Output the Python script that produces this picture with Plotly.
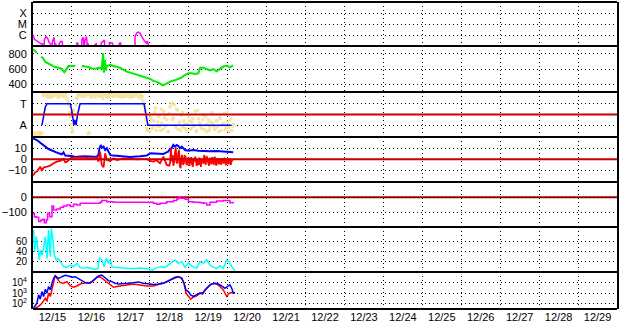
import plotly.graph_objects as go
import pandas as pd

BASE = pd.Timestamp("2005-12-15")
END = pd.Timestamp("2005-12-30")

# ---- Panel 1: X-ray flux (log10 W/m2), hours since 12/15 00:00
xray_h = [0,1,2,3,4,5,5.8,5.9,6.8,7,8,9,10,11,11.5,12,13,13.6,14,14.6,16,16.1,17,18,18.5,27,27.1,28,28.2,30,30.1,31,31.5,32,33,33.6,34,34.3,38,38.1,39,39.5,42,42.1,43,44,44.3,47,47.1,49,49.3,53,53.1,54,54.3,62.8,62.9,64,65,66,67,68,69,70,70.5,71,71.3,81,81.1,81.5]
xray_log = [-6.0,-6.4,-6.5,-6.6,-6.75,-6.8,-6.8,-7.3,-7.3,-6.45,-6.15,-6.3,-6.7,-6.85,-7.3,-6.6,-6.2,-7.3,-6.75,-7.3,-7.3,-6.8,-6.58,-6.58,-7.3,-7.3,-6.67,-6.9,-7.3,-7.3,-6.4,-6.2,-7.3,-6.5,-6.15,-7.3,-6.75,-7.3,-7.3,-6.9,-6.8,-7.3,-7.3,-6.7,-6.6,-6.45,-7.3,-7.3,-6.7,-6.75,-7.3,-7.3,-6.8,-6.7,-7.3,-7.3,-6.15,-5.8,-5.73,-5.85,-6.15,-6.45,-6.6,-6.75,-6.55,-6.85,-7.3,-7.3,-6.9,-7.3]
xray_tickvals = [1e-6, 1e-5, 1e-4]
xray_ticktext = ["C", "M", "X"]

# ---- Panel 2: solar wind speed
speed_h = [0,1.4,2.4,3.5,4.9,6.1,7.6,9.6,11.7,13.7,15.8,17.8,19.3,20.5,21.9,24,26,28,30.1,32.2,34.2,36.3,38.3,40.4,42.4,43.2,43.7,44.3,44.9,45.5,47.6,49.6,51.7,53.7,55.8,57.8,59.9,62,64,66,68.1,70.1,72.2,74.2,76.3,78.3,80,81.4,83.4,85.5,87.6,89.6,91.7,93.7,95.8,97.8,99.9,101.9,103,105,107.1,109.1,111.2,113.2,115.3,117.3,119.3,121.4,123.4]
speed = [858,827,813,None,759,746,692,670,647,625,616,602,557,589,638,638,638,None,638,634,625,607,602,616,607,804,553,715,580,634,656,638,625,616,589,566,553,544,526,512,499,481,472,445,432,409,387,400,427,445,454,468,490,521,544,544,535,544,616,616,602,580,598,571,602,634,643,625,647]

# ---- Panel 3: IMF sector (T / A)
sector_h = [5.5,6.6,7.6,8.6,23,24,25.2,25.8,26.5,27.5,29,68.5,69.7,70.8,122.4]
sector = [-1,0,0.7,1,1,0.3,-1,-0.5,-1,0,1,1,0,-1,-1]
phi1 = [-1.8,-1.85,-1.75,-1.9,-1.8,-1.7,1.8,1.9,1.7,1.95,1.85,1.6,1.9,1.75,1.95,1.8,1.7,1.9,1.85,1.65,1.9,1.4,0.8,-0.2,
        -1.3,0.4,-0.6,1.5,1.85,1.9,1.75,1.95,1.7,1.85,-1.8,1.9,1.6,1.85,1.75,1.95,1.8,1.7,1.9,1.5,1.85,1.75,1.9,1.6,
        1.8,1.95,1.7,1.85,1.75,1.9,1.65,1.85,1.8,1.7,1.9,1.75,1.6,1.85,1.7,1.9,1.8,1.65,1.85,1.5,1.2,0.3,-1.3,-0.9,
        -1.6,-0.4,-1.2,0.2,-1.5,-0.7,-1.1,0.5,-1.4,-0.3,-1.0,-1.6,0.1,1.0,-0.5,0.9,-1.2,0.4,-0.8,-1.5,0.2,-0.6,-1.3,-0.9,
        -0.2,-1.4,-0.7,-1.1,0.3,-1.5,-0.4,-0.9,-1.3,-0.1,-1.0,-1.6,-0.5,-1.2,0.2,-0.8,-1.4,-0.6,-1.1,-0.3,-1.5,-0.9,0.1,
        -1.2,-0.7,-1.6,-0.4,-1.1]
phi2 = [-1.7,-1.9,-1.8,-1.65,-1.85,-1.75,
        1.95,1.75,1.85,1.6,1.9,1.8,1.7,1.95,1.85,1.6,1.9,1.75,1.8,1.95,1.7,1.1,0.2,
        -0.9,-1.6,-0.1,0.9,1.7,1.9,
        1.8,1.65,1.9,1.75,1.85,-1.7,1.7,1.95,1.8,1.6,1.9,1.75,1.85,1.7,1.95,1.8,1.6,1.85,1.75,1.9,1.65,1.8,1.95,1.7,1.85,1.75,1.6,1.9,1.8,1.7,1.95,1.85,1.65,1.8,1.9,1.75,1.6,1.85,
        1.7,0.8,-0.5,-1.5,-1.0,-0.3,
        -1.3,-0.6,0.6,-1.1,-0.2,-1.5,-0.8,0.3,-1.2,-0.5,-1.6,0.7,1.1,-0.3,-1.0,0.5,-1.4,-0.7,-0.1,-1.2,
        -0.9,-1.5,0.0,-0.6,-1.3,-0.4,-1.0,-1.6,0.4,-0.8,-1.2,-0.5,-1.4,-0.2,-0.9,-1.5,-0.7,0.1,-1.1,-1.3,
        -0.6,-1.6,-0.4,-1.0,-0.8,-1.4,0.2,-1.2,-0.5,-1.5,-0.9]
phi1_h = [h for h in range(len(phi1))]
phi2_h = [h + 0.5 for h in range(len(phi2))]

# ---- Panel 4: Bt (blue) and Bz (red), nT
bt_h = [0,1.4,2.4,4.1,5.5,7.6,9.6,11.7,13.7,15.8,17.8,18.8,19.9,21.9,24,26,31.2,35.3,39.4,40.4,41,41.8,42.6,43.5,44.5,45.5,46.5,47.6,49.6,53.7,59.9,66,70.1,72.2,76.3,80.4,83.4,84.4,85.5,86.5,87.6,88.6,89.6,90.6,91.7,93.7,95.8,98.8,101.9,105,109.1,113.2,117.3,121.4,123.4]
bt = [19.4,18.8,17.8,15.7,13.8,11.7,9.5,8,7.1,5.5,4.6,6.5,3.4,3.4,3.1,2.2,2.8,2.5,2.2,4.6,10.2,13.2,10.8,11.7,8.6,10.2,7.7,4,3.4,2.8,2.2,2.8,3.4,5.5,4.9,4.9,7.1,9.5,10.2,13.2,11.7,13.2,12.3,10.2,11.7,8.6,8,8.6,8,7.7,7.4,7.7,7.1,7.1,6.5]
bz_h_early = [0,1.4,2.4,4.5,5.5,6.5,8.6,10.6,12.7,14.7,16.8,18.8,19.9,20.9,23,25,31.2,37.3,39.4,40.4,41.4,42.4,43.5,44.5,45.5,47.6,49.6,51.7,55.8,59.9,64,70.1,72.2,74.2,76.3,78.3,80.4,82.4]
bz_early = [-15.1,-12,-11.4,-6.8,-10.8,-7.7,-6.8,-5.8,-3.7,-2.2,-1.5,0.3,-2.8,-2.2,0.9,1.5,1.5,0.9,1.5,-2.2,7.1,-5.2,-7.4,5.5,-0.6,-1.5,0.9,-0.6,0.9,0.3,0,0.3,-1.5,-2.2,-0.9,-3.7,2.5,-5.2]
# half-hourly Bz from 12/18 12:00
bz_late = [-5.8,-3,10.2,-2,4,-6,-2.2,6,10.8,-3,-3.7,5,8.6,-6,-8.3,2,4,-5,-3.7,3,2.5,-4,-5.2,1,0.9,-6,-2,2,-3.7,-7,
           1,-2,2.5,-4,-6,0,-5.2,1.5,-3,-7,0.5,-0.6,-4,4,-2,-5,3,-1,-3.7,-6,1.5,-2,-4.6,2,-1,-5,2.5,-3.7,-6,0.9,
           -2,-4.6,1,-3,-5,0.9,-2,-4,1.5,-3,-5.5,0.5,-2,-4.6,0.9,-3,-5,0,-2]
bz_h_late = [84 + 0.5 * k for k in range(len(bz_late))]
bz_h = bz_h_early + bz_h_late
bz = bz_early + bz_late

# ---- Panel 5: Dst, nT
dst_h = [0,0.8,2,3.5,4.9,6.1,7,8.2,9,10.2,11.7,12.7,14.7,16.8,18.8,20.9,23,25,27.1,29.1,33.2,37.3,41.4,42.4,43.5,45.5,49.6,55.8,62,68.1,74.2,76.3,78.3,82.4,86.5,88.6,89.6,90.6,91.7,93.7,95.8,98.8,102.9,105,107.1,109.1,113.2,117.3,119.3,121.4,123.4]
dst = [-107,-129,-133,-162,-151,-147,-169,-151,-107,-129,-58,-84,-78,-67,-58,-51,-62,-47,-51,-40,-40,-40,-33,-22,-22,-29,-33,-33,-33,-33,-40,-47,-40,-29,-22,-11,0,-7,-7,-13,-29,-33,-36,-40,-51,-33,-24,-22,-22,-36,-29]

# ---- Panel 6: cyan index
cyan_h = [0.4,1,2,2.8,3.9,4.5,5.5,6.5,7.6,8.6,9.6,10.7,11.3,12.3,13.1,14.3,15.4,16.8,18.9,20.9,23,25,27.1,29.1,31.2,33.2,35.3,38.3,40,41,42.4,43.9,45.1,46.5,47.6,48.8,50.6,53.7,57.8,61.9,66,70.1,73.2,75.3,78.4,81.4,83.5,85.5,87.6,89.6,91.7,93.7,95.8,97.8,100.9,102.9,105,107.1,109.1,111.2,113.2,115.3,117.3,119.4,121,122.5,124.5]
cyan = [82,38.7,68.7,48.7,22,42,32,45.3,68.7,25.3,82,28.7,85.3,62,32,22,25.3,18.7,8.7,7.3,12,8.7,15.3,6.7,5.3,7.3,5.3,3.3,5.3,26.7,22,8.7,25.3,15.3,22,8.7,7.3,6,5.3,4.7,6,4.7,0.7,5.3,8.7,7.3,12,16.7,22,15.3,18.7,7.3,16.7,10,5.3,18.7,15.3,22,12,7.3,5.3,10,5.3,22,18.7,8.7,0]

# ---- Panel 7: electron flux (log10), blue and red
eb_h = [0.4,2.4,3.5,4.5,5.5,6.5,7.6,8.6,9.6,10.7,11.7,12.7,13.7,15.8,17.8,19.9,21.9,24,26,28.1,30.1,32.2,34.2,36.3,38.3,40.4,42.4,44.5,46.5,48.6,50.6,52.7,55.8,58.8,61.9,65,68,71.2,74.3,77.4,80.4,83.5,85.5,87.6,89.6,91.7,93.1,94.3,95.8,97.2,98.8,100.9,102.9,104.6,106,108.1,110.1,112.2,114.2,116.3,118.3,119.8,121.4,122.5,123.5,124.5]
eb_log = [1.6,2.06,2.86,2.44,3.17,2.7,3.4,3.02,3.65,3.33,3.97,4.44,4.67,4.44,4.6,4.73,4.67,4.54,4.6,4.44,4.22,4.03,3.97,4.13,4.44,4.67,4.76,4.44,4.22,4.13,3.97,3.9,3.9,3.97,4.03,4.1,3.97,3.9,3.84,3.9,3.97,4.19,4.35,4.54,4.6,4.44,3.97,3.33,3.17,2.86,2.7,2.86,3.02,2.95,3.33,3.65,3.9,3.97,3.9,3.71,3.49,3.65,3.81,3.49,3.02,3.08]
er_h = [0.4,3.5,5.5,7.6,8.6,9.6,10.7,11.7,12.7,13.7,14.7,16.8,18.9,20.9,23,25,27.1,29.1,31.2,33.2,35.3,37.3,39.4,41.4,43.5,45.5,47.6,49.6,51.7,53.7,57.8,61.9,66,70.1,74.3,78.4,81.4,83.5,85.5,87.6,89.6,91.7,93.1,94.3,95.8,97.2,98.8,100.9,102.9,105,107.1,109.1,111.2,113.2,115.3,117.3,119.4,121,122.5,124.5]
er_log = [1.5,1.75,2.06,2.54,2.22,3.02,2.7,3.49,4.29,4.76,4.44,4.03,3.97,4.13,3.71,3.59,3.71,3.9,3.97,4.03,3.97,4.22,4.54,4.6,4.35,4.13,3.81,3.59,3.65,3.71,3.81,3.9,3.81,3.71,3.71,3.9,4.03,4.22,4.35,4.54,4.6,4.44,3.97,3.02,2.7,2.44,2.63,2.76,3.02,3.08,3.49,3.81,3.97,3.9,3.65,3.33,2.7,3.02,3.08,3.02]
e_tickvals = [1e2, 1e3, 1e4]
e_ticktext = ["10<sup>2</sup>", "10<sup>3</sup>", "10<sup>4</sup>"]


def tt(hours):
    return [BASE + pd.Timedelta(hours=h) for h in hours]


fig = go.Figure()
LW = 1.5
fig.add_trace(go.Scatter(x=tt(xray_h), y=[10 ** v for v in xray_log], mode="lines",
                         line=dict(color="#ff00ff", width=LW), xaxis="x", yaxis="y"))
fig.add_trace(go.Scatter(x=tt(speed_h), y=speed, mode="lines", connectgaps=False,
                         line=dict(color="#00ee00", width=2), xaxis="x2", yaxis="y2"))
fig.add_trace(go.Scatter(x=tt(phi1_h), y=phi1, mode="markers",
                         marker=dict(color="#f6e49e", size=3, symbol="square", line=dict(width=0)),
                         xaxis="x3", yaxis="y3"))
fig.add_trace(go.Scatter(x=tt(phi2_h), y=phi2, mode="markers",
                         marker=dict(color="#f6e49e", size=3, symbol="square", line=dict(width=0)),
                         xaxis="x3", yaxis="y3"))
fig.add_trace(go.Scatter(x=tt(sector_h), y=sector, mode="lines",
                         line=dict(color="#0000ff", width=LW), xaxis="x3", yaxis="y3"))
fig.add_trace(go.Scatter(x=tt(bt_h), y=bt, mode="lines",
                         line=dict(color="#0000ff", width=2), xaxis="x4", yaxis="y4"))
fig.add_trace(go.Scatter(x=tt(bz_h), y=bz, mode="lines",
                         line=dict(color="#ff0000", width=1.8), xaxis="x4", yaxis="y4"))
fig.add_trace(go.Scatter(x=tt(dst_h), y=dst, mode="lines", line_shape="hv",
                         line=dict(color="#ff00ff", width=LW), xaxis="x5", yaxis="y5"))
fig.add_trace(go.Scatter(x=tt(cyan_h), y=cyan, mode="lines",
                         line=dict(color="#00ffff", width=LW), xaxis="x6", yaxis="y6"))
fig.add_trace(go.Scatter(x=tt(er_h), y=[10 ** v for v in er_log], mode="lines",
                         line=dict(color="#ff0000", width=LW), xaxis="x7", yaxis="y7"))
fig.add_trace(go.Scatter(x=tt(eb_h), y=[10 ** v for v in eb_log], mode="lines",
                         line=dict(color="#0000ff", width=LW), xaxis="x7", yaxis="y7"))

# panel pixel bounds (top, bottom) within plot area 2..309
H_TOP, H_BOT = 2, 309
bounds = [(2, 46), (46, 92), (92, 137), (137, 182), (182, 227), (227, 272), (272, 309)]
span = H_BOT - H_TOP
domains = [[(H_BOT - b) / span, (H_BOT - t) / span] for t, b in bounds]

grid = dict(showgrid=True, gridcolor="black", gridwidth=1, griddash="1px,3px",
            zeroline=False, ticks="")
font = dict(family="Liberation Sans, Arial", size=11, color="black")

yaxes = [
    dict(type="log", range=[-7, -3], tickvals=xray_tickvals, ticktext=xray_ticktext),
    dict(range=[300, 900], tickvals=[400, 600, 800]),
    dict(range=[-2.1, 2.1], tickvals=[-1, 1], ticktext=["A", "T"]),
    dict(range=[-21, 20.6], tickvals=[-10, 0, 10]),
    dict(range=[-198, 102], tickvals=[-100, 0]),
    dict(range=[-2, 88], tickvals=[20, 40, 60], tickfont=dict(size=10)),
    dict(type="log", range=[1.5, 5.05], tickvals=e_tickvals, ticktext=e_ticktext,
         tickfont=dict(size=10)),
]

layout = dict(width=628, height=334, margin=dict(l=33, r=11, t=2, b=25),
              paper_bgcolor="white", plot_bgcolor="white", showlegend=False, font=font)
for i in range(7):
    sfx = "" if i == 0 else str(i + 1)
    xa = dict(type="date", range=[BASE, END], anchor="y" + sfx, dtick=86400000,
              tick0=BASE, tickformat="%m/%d", ticklabelmode="period",
              showticklabels=(i == 6), tickfont=dict(size=11), showline=False, **grid)
    if i > 0:
        xa["matches"] = "x"
    layout["xaxis" + sfx] = xa
    ya = dict(domain=domains[i], anchor="x" + sfx, showline=True, linecolor="black",
              linewidth=2, mirror=True, ticklabelstandoff=2, **grid)
    ya.update(yaxes[i])
    layout["yaxis" + sfx] = ya

shapes = [
    dict(type="line", xref="x3 domain", yref="y3", x0=0, x1=1, y0=0, y1=0,
         line=dict(color="#cc0000", width=2), layer="above"),
    dict(type="line", xref="x4 domain", yref="y4", x0=0, x1=1, y0=0, y1=0,
         line=dict(color="#cc0000", width=2), layer="above"),
    dict(type="line", xref="x5 domain", yref="y5", x0=0, x1=1, y0=0, y1=0,
         line=dict(color="#b00000", width=2), layer="below"),
    dict(type="line", xref="x7 domain", yref="y7", x0=0, x1=1, y0=4, y1=4,
         line=dict(color="#b00000", width=1.5, dash="8px,4px"), layer="below"),
]
# panel borders (top and bottom of every panel)
for d in domains:
    for yy in d:
        shapes.append(dict(type="line", xref="paper", yref="paper", x0=0, x1=1, y0=yy, y1=yy,
                           line=dict(color="black", width=2), layer="above"))
layout["shapes"] = shapes
fig.update_layout(**layout)
fig.write_html("out.html")
